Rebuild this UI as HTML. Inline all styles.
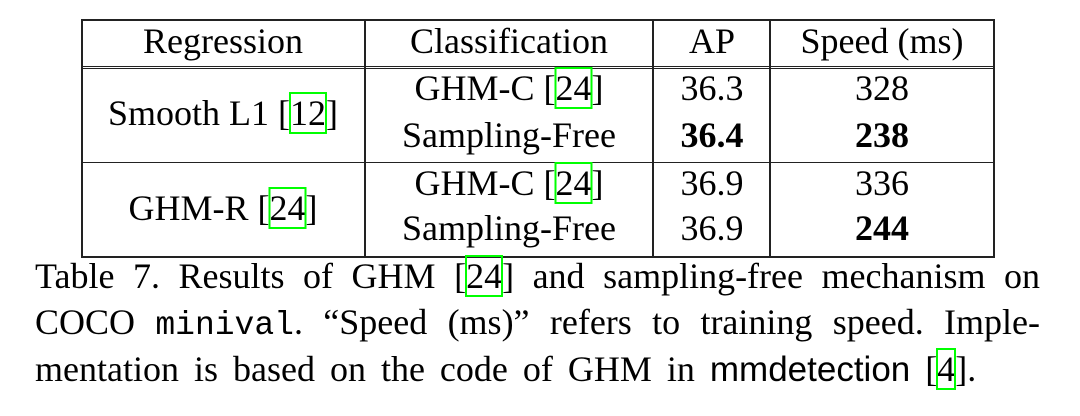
<!DOCTYPE html>
<html><head><meta charset="utf-8"><style>
body{margin:0;width:1080px;height:416px;background:#fff;position:relative;overflow:hidden;font-family:"Liberation Serif",serif;color:#000}
.t{position:absolute;font-size:36px;line-height:1;white-space:nowrap}
.c{transform:translateX(-50%)}
.ln{position:absolute;background:#222}
.cite{outline:2px solid #00ff00;outline-offset:-1px}
.cap{position:absolute;left:35px;width:1005px;font-size:36px;line-height:1;white-space:nowrap;text-align:justify;text-align-last:justify}
.mono{font-family:"Liberation Mono",monospace;font-size:33px;font-weight:300}
.sans{font-family:"Liberation Sans",sans-serif;font-size:35px}
</style></head><body>
<div>
<div class="ln" style="left:81px;top:19px;width:914px;height:2px"></div>
<div class="ln" style="left:81px;top:66px;width:914px;height:1px"></div>
<div class="ln" style="left:81px;top:68px;width:914px;height:1px"></div>
<div class="ln" style="left:81px;top:162px;width:914px;height:1px"></div>
<div class="ln" style="left:81px;top:256px;width:914px;height:2px"></div>
<div class="ln" style="left:81px;top:19px;width:2px;height:239px"></div>
<div class="ln" style="left:364px;top:19px;width:2px;height:239px"></div>
<div class="ln" style="left:652px;top:19px;width:2px;height:239px"></div>
<div class="ln" style="left:769px;top:19px;width:2px;height:239px"></div>
<div class="ln" style="left:993px;top:19px;width:2px;height:239px"></div>

<div class="t c" style="left:223px;top:23px">Regression</div>
<div class="t c" style="left:509px;top:23px">Classification</div>
<div class="t c" style="left:712px;top:23px">AP</div>
<div class="t c" style="left:882px;top:23px">Speed (ms)</div>

<div class="t c" style="left:223px;top:95px">Smooth L1 [<span class="cite">12</span>]</div>
<div class="t c" style="left:223px;top:190px">GHM-R [<span class="cite">24</span>]</div>

<div class="t c" style="left:509px;top:70px">GHM-C [<span class="cite">24</span>]</div>
<div class="t c" style="left:509px;top:117px">Sampling-Free</div>
<div class="t c" style="left:509px;top:165px">GHM-C [<span class="cite">24</span>]</div>
<div class="t c" style="left:509px;top:210px">Sampling-Free</div>

<div class="t c" style="left:712px;top:70px">36.3</div>
<div class="t c" style="left:712px;top:117px;font-weight:bold">36.4</div>
<div class="t c" style="left:712px;top:165px">36.9</div>
<div class="t c" style="left:712px;top:210px">36.9</div>

<div class="t c" style="left:882px;top:70px">328</div>
<div class="t c" style="left:882px;top:117px;font-weight:bold">238</div>
<div class="t c" style="left:882px;top:165px">336</div>
<div class="t c" style="left:882px;top:210px;font-weight:bold">244</div>
</div>

<div>
<div class="cap" style="top:258px">Table 7. Results of GHM [<span class="cite">24</span>] and sampling-free mechanism on</div>
<div class="cap" style="top:304px">COCO <span class="mono">minival</span>. “Speed (ms)” refers to training speed. Imple-</div>
<div class="cap" style="top:351px;width:auto;text-align:left;text-align-last:left;word-spacing:6px">mentation is based on the code of GHM in <span class="sans">mmdetection</span> [<span class="cite">4</span>].</div>
</div>
</body></html>
